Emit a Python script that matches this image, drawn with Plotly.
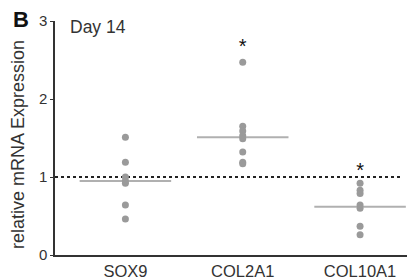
import plotly.graph_objects as go

categories = ["SOX9", "COL2A1", "COL10A1"]
sox9 = [1.51, 1.19, 1.0, 0.95, 0.92, 0.64, 0.46]
col2a1 = [2.47, 1.65, 1.59, 1.53, 1.49, 1.32, 1.19, 1.17]
col10a1 = [0.92, 0.83, 0.79, 0.64, 0.60, 0.37, 0.26]
medians = [0.95, 1.51, 0.62]
star_y = [None, 2.65, 1.07]
y_ticks = [0, 1, 2, 3]

series = [sox9, col2a1, col10a1]
dot_color = "#9a9a9a"
line_color = "#b0b0b0"
text_color = "#333333"

fig = go.Figure()

# reference dotted line at 1
fig.add_trace(go.Scatter(x=[-0.6, 2.35], y=[1, 1], mode="lines",
                         line=dict(color="#222222", width=2.2, dash="dot"),
                         hoverinfo="skip", showlegend=False))

for i, vals in enumerate(series):
    fig.add_trace(go.Scatter(x=[i - 0.39, i + 0.39], y=[medians[i], medians[i]],
                             mode="lines", line=dict(color=line_color, width=2),
                             showlegend=False, hoverinfo="skip"))
    fig.add_trace(go.Scatter(x=[i] * len(vals), y=vals, mode="markers",
                             marker=dict(color=dot_color, size=7),
                             showlegend=False))
    if star_y[i] is not None:
        fig.add_trace(go.Scatter(x=[i], y=[star_y[i]], mode="text", text=["*"],
                                 textfont=dict(size=20, color="#111111",
                                               family="Liberation Sans"),
                                 textposition="middle center",
                                 showlegend=False, hoverinfo="skip"))

fig.update_layout(
    width=415, height=280,
    margin=dict(l=55, r=8, t=21, b=25),
    plot_bgcolor="white", paper_bgcolor="white",
    font=dict(family="Liberation Sans, Arial, sans-serif", color=text_color, size=15),
    xaxis=dict(range=[-0.6, 2.4], tickvals=[0, 1, 2], ticktext=categories,
               showgrid=False, zeroline=False, showline=True, automargin=False,
               linecolor="#333333", linewidth=1.5, ticks="",
               tickfont=dict(size=16.5, color=text_color)),
    yaxis=dict(range=[0, 3], tickvals=y_ticks, showgrid=False, zeroline=False,
               showline=True, linecolor="#333333", linewidth=1.5, automargin=False,
               ticks="outside", ticklen=3, tickcolor="#333333",
               tickfont=dict(size=15, color=text_color)),
    annotations=[
        dict(text="<b>B</b>", x=-0.097, y=1.005, xref="paper", yref="paper",
             xanchor="center", yanchor="middle", showarrow=False,
             font=dict(size=22, color="#111111")),
        dict(text="Day 14", x=0.038, y=1.025, xref="paper", yref="paper",
             xanchor="left", yanchor="top", showarrow=False,
             font=dict(size=17.5, color=text_color)),
        dict(text="relative mRNA Expression", textangle=-90,
             x=-0.105, y=0.47, xref="paper", yref="paper",
             xanchor="center", yanchor="middle", showarrow=False,
             font=dict(size=18, color=text_color)),
    ],
)

fig.write_html("out.html", config={"displayModeBar": False},
               post_script="document.body.style.margin='0';document.body.style.overflow='hidden';")
